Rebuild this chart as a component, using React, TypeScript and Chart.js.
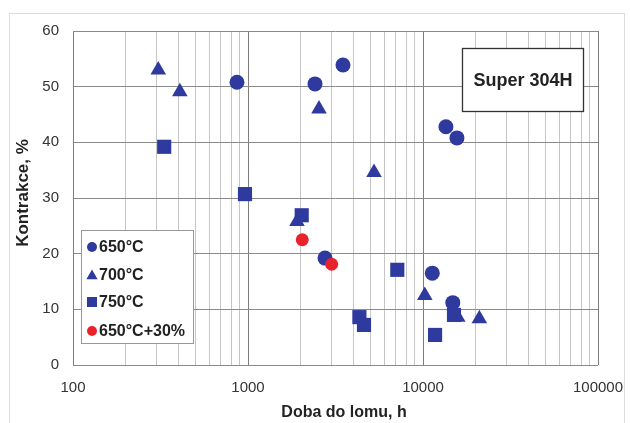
import React, { useEffect, useRef } from "react";
import { Chart, registerables } from "chart.js";

Chart.register(...registerables);

// ---- data ----
const seriesLabels = ["650°C", "700°C", "750°C", "650°C+30%"];

const c650X = [865, 2415, 3490, 13520, 15630, 2755, 11300, 14800];
const c650Y = [50.8, 50.5, 53.9, 42.8, 40.8, 19.2, 16.5, 11.2];

const t700X = [307, 408, 2545, 5250, 1905, 10240, 15800, 20990];
const t700Y = [53.0, 49.1, 46.0, 34.6, 25.8, 12.5, 8.6, 8.3];

const s750X = [332, 961, 2027, 7130, 4330, 4600, 11720, 15030];
const s750Y = [39.2, 30.7, 26.9, 17.1, 8.6, 7.2, 5.4, 9.0];

const r650X = [2042, 3006];
const r650Y = [22.5, 18.1];

const xTickLabels = [100, 1000, 10000, 100000];
const yTickValues = [0, 10, 20, 30, 40, 50, 60];
const xAxisTitle = "Doba do lomu, h";
const yAxisTitle = "Kontrakce, %";
const boxText = "Super 304H";

const BLUE = "#2f3a9e";
const RED = "#e8232b";
const FONT = "'Liberation Sans', Arial, sans-serif";

const toPts = (xs: number[], ys: number[]) => xs.map((x, i) => ({ x, y: ys[i] }));

// minor grid values for log axis: 1..9 x each decade
const logGrid: number[] = [];
for (let d = 0; d < xTickLabels.length - 1; d++) {
  for (let m = 1; m <= 9; m++) logGrid.push(xTickLabels[d] * m);
}
logGrid.push(xTickLabels[xTickLabels.length - 1]);

function drawMarker(ctx: CanvasRenderingContext2D, shape: string, x: number, y: number, r: number, color: string) {
  ctx.save();
  ctx.fillStyle = color;
  ctx.beginPath();
  if (shape === "circle") {
    ctx.arc(x, y, r, 0, Math.PI * 2);
  } else if (shape === "triangle") {
    ctx.moveTo(x, y - r);
    ctx.lineTo(x + r * 0.866, y + r / 2);
    ctx.lineTo(x - r * 0.866, y + r / 2);
    ctx.closePath();
  } else {
    ctx.rect(x - r, y - r, 2 * r, 2 * r);
  }
  ctx.fill();
  ctx.restore();
}

const decorPlugin = {
  id: "decor",
  beforeDraw(chart: any) {
    const ctx = chart.ctx as CanvasRenderingContext2D;
    ctx.save();
    ctx.fillStyle = "#ffffff";
    ctx.fillRect(0, 0, chart.width, chart.height);
    ctx.strokeStyle = "#dcdcdc";
    ctx.lineWidth = 1;
    ctx.strokeRect(9.5, 13.5, 615, 420);
    ctx.restore();
  },
  afterDraw(chart: any) {
    const ctx = chart.ctx as CanvasRenderingContext2D;
    ctx.save();
    // axis titles
    ctx.fillStyle = "#222";
    ctx.font = `bold 16px ${FONT}`;
    ctx.textAlign = "center";
    ctx.textBaseline = "middle";
    ctx.fillText(xAxisTitle, 344, 413);
    ctx.save();
    ctx.font = `bold 17px ${FONT}`;
    ctx.translate(23, 193);
    ctx.rotate(-Math.PI / 2);
    ctx.fillText(yAxisTitle, 0, 0);
    ctx.restore();

    // Super 304H box
    ctx.fillStyle = "#ffffff";
    ctx.fillRect(462.5, 48.5, 121, 63);
    ctx.strokeStyle = "#333";
    ctx.lineWidth = 1.3;
    ctx.strokeRect(462.5, 48.5, 121, 63);
    ctx.fillStyle = "#222";
    ctx.font = `bold 18px ${FONT}`;
    ctx.fillText(boxText, 523, 81);

    // legend
    ctx.fillStyle = "#ffffff";
    ctx.fillRect(81.5, 230.5, 112, 113);
    ctx.strokeStyle = "#999";
    ctx.lineWidth = 1;
    ctx.strokeRect(81.5, 230.5, 112, 113);
    const shapes = ["circle", "triangle", "rect", "circle"];
    const colors = [BLUE, BLUE, BLUE, RED];
    const ys = [247, 275, 302, 331];
    ctx.font = `bold 16px ${FONT}`;
    ctx.textAlign = "left";
    seriesLabels.forEach((lab, i) => {
      const r = shapes[i] === "triangle" ? 6.5 : 5;
      drawMarker(ctx, shapes[i], 92, ys[i] + (shapes[i] === "triangle" ? 1 : 0), r, colors[i]);
      ctx.fillStyle = "#222";
      ctx.fillText(lab, 99, ys[i] + 1);
    });
    ctx.restore();
  },
};

export default function App() {
  const ref = useRef<HTMLCanvasElement | null>(null);
  useEffect(() => {
    if (!ref.current) return;
    const chart = new Chart(ref.current, {
      type: "scatter",
      data: {
        datasets: [
          {
            label: seriesLabels[3],
            data: toPts(r650X, r650Y),
            pointStyle: "circle",
            pointRadius: 6.5,
            backgroundColor: RED,
            borderColor: RED,
            borderWidth: 0,
            order: 0,
          },
          {
            label: seriesLabels[0],
            data: toPts(c650X, c650Y),
            pointStyle: "circle",
            pointRadius: 7.5,
            backgroundColor: BLUE,
            borderColor: BLUE,
            borderWidth: 0,
            order: 1,
          },
          {
            label: seriesLabels[1],
            data: toPts(t700X, t700Y),
            pointStyle: "triangle",
            pointRadius: 9,
            backgroundColor: BLUE,
            borderColor: BLUE,
            borderWidth: 0,
            order: 2,
          },
          {
            label: seriesLabels[2],
            data: toPts(s750X, s750Y),
            pointStyle: "rect",
            pointRadius: 10,
            backgroundColor: BLUE,
            borderColor: BLUE,
            borderWidth: 0,
            order: 3,
          },
        ],
      },
      options: {
        responsive: false,
        animation: false,
        devicePixelRatio: 1,
        layout: { padding: { left: 0, top: 31, right: 32, bottom: 0 } },
        plugins: {
          legend: { display: false },
          tooltip: { enabled: false },
        },
        scales: {
          x: {
            type: "logarithmic",
            min: 100,
            max: 100000,
            afterBuildTicks: (s: any) => {
              s.ticks = logGrid.map((v) => ({ value: v }));
            },
            afterFit: (s: any) => {
              s.height = 58;
              s.paddingLeft = 0;
              s.paddingRight = 0;
            },
            ticks: {
              autoSkip: false,
              maxRotation: 0,
              minRotation: 0,
              padding: 14,
              color: "#333",
              font: { family: FONT, size: 15 },
              callback: (v: any) => (xTickLabels.includes(Number(v)) ? String(v) : ""),
            },
            grid: {
              drawTicks: false,
              lineWidth: 1,
              color: (c: any) =>
                xTickLabels.includes(Number(c.tick && c.tick.value)) ? "#7c7c7c" : "#c6c6c6",
            },
            border: { display: false },
          },
          y: {
            type: "linear",
            min: 0,
            max: 60,
            afterBuildTicks: (s: any) => {
              s.ticks = yTickValues.map((v) => ({ value: v }));
            },
            afterFit: (s: any) => {
              s.width = 73;
              s.paddingTop = 0;
              s.paddingBottom = 0;
            },
            ticks: {
              padding: 14,
              color: "#333",
              font: { family: FONT, size: 15 },
            },
            grid: { drawTicks: false, color: "#8a8a8a", lineWidth: 1 },
            border: { display: false },
          },
        },
      },
      plugins: [decorPlugin],
    } as any);
    return () => chart.destroy();
  }, []);
  return (
    <div style={{ position: "absolute", left: 0, top: 0, width: 630, height: 423 }}>
      <canvas ref={ref} width={630} height={423} style={{ display: "block" }} />
    </div>
  );
}
